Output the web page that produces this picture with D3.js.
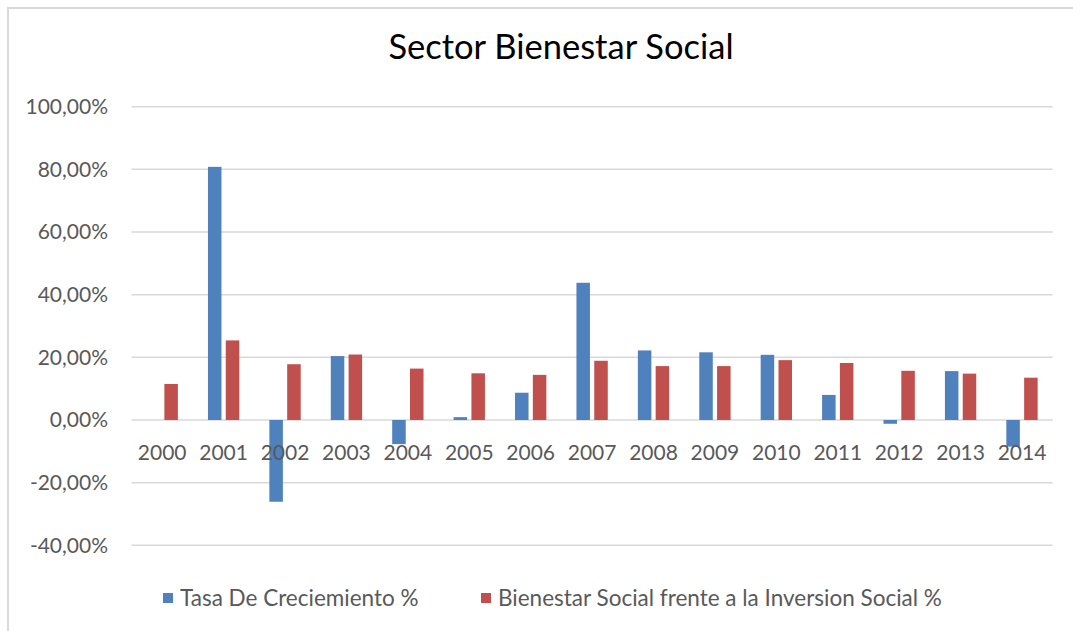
<!DOCTYPE html>
<html>
<head>
<meta charset="utf-8">
<script src="https://cdn.jsdelivr.net/npm/d3@7"></script>
<style>
  html, body { margin: 0; padding: 0; background: #fff; }
  svg { display: block; font-family: Lato, "Open Sans", sans-serif; }
  .tick-lbl { fill: #595959; font-size: 21px; }
  .legend-lbl { fill: #595959; font-size: 22.5px; }
  .title { fill: #000; font-size: 34.5px; }
</style>
</head>
<body>
<div id="chart"></div>
<script>
// Sector Bienestar Social: two series per year, percent values.
const years = ["2000", "2001", "2002", "2003", "2004", "2005", "2006", "2007",
  "2008", "2009", "2010", "2011", "2012", "2013", "2014"];
const tasaCrecimiento = [0, 80.8, -26.1, 20.4, -7.7, 0.9, 8.7, 43.8,
  22.2, 21.6, 20.8, 8.0, -1.2, 15.6, -8.5];
const bienestarInversion = [11.5, 25.4, 17.8, 20.9, 16.4, 14.9, 14.4, 18.9,
  17.2, 17.2, 19.1, 18.2, 15.7, 14.8, 13.5];
const yTicks = [-40, -20, 0, 20, 40, 60, 80, 100];
const seriesNames = ["Tasa De Creciemiento %", "Bienestar Social frente a la Inversion Social %"];
const colors = ["#4f81bd", "#c0504d"];

const W = 1073, H = 631;
const plot = { left: 131.5, right: 1052.7, top: 106.7, bottom: 545.3 };

const svg = d3.select("#chart").append("svg")
  .attr("width", W).attr("height", H);

// chart frame (only top and left edges are inside the picture)
svg.append("path")
  .attr("d", `M8,${H} L8,8 L${W},8`)
  .attr("fill", "none").attr("stroke", "#d9d9d9").attr("stroke-width", 2);

const x = d3.scaleBand(years, [plot.left, plot.right]);
const y = d3.scaleLinear([-40, 100], [plot.bottom, plot.top]);
const step = x.step();
const barW = step * 0.22;
const off = step * 0.145;

// gridlines
svg.append("g").selectAll("line").data(yTicks).join("line")
  .attr("x1", plot.left).attr("x2", plot.right)
  .attr("y1", (d) => y(d)).attr("y2", (d) => y(d))
  .attr("stroke", "#d9d9d9").attr("stroke-width", 1.5);

// y tick labels (comma decimals, plain hyphen minus)
const fmt = (d) => d.toFixed(2).replace(".", ",") + "%";
svg.append("g").selectAll("text").data(yTicks).join("text")
  .attr("class", "tick-lbl")
  .attr("x", 108).attr("y", (d) => y(d))
  .attr("dy", "0.35em").attr("text-anchor", "end")
  .text(fmt);

// bars
const series = [tasaCrecimiento, bienestarInversion];
series.forEach((vals, si) => {
  svg.append("g").selectAll("rect").data(vals.map((v, i) => ({ v, yr: years[i] })))
    .join("rect")
    .attr("x", (d) => x(d.yr) + step / 2 + (si === 0 ? -off : off) - barW / 2)
    .attr("width", barW)
    .attr("y", (d) => y(Math.max(0, d.v)))
    .attr("height", (d) => Math.abs(y(d.v) - y(0)))
    .attr("fill", colors[si]);
});

// category labels next to the zero line
svg.append("g").selectAll("text").data(years).join("text")
  .attr("class", "tick-lbl")
  .attr("x", (d) => x(d) + step / 2).attr("y", y(0) + 40)
  .attr("text-anchor", "middle")
  .text((d) => d);

// title
svg.append("text").attr("class", "title")
  .attr("x", 561).attr("y", 59).attr("text-anchor", "middle")
  .text("Sector Bienestar Social");

// legend
const legX = [163, 481];
const lg = svg.append("g").selectAll("g").data(seriesNames).join("g")
  .attr("transform", (_, i) => `translate(${legX[i]},593)`);
lg.append("rect").attr("width", 10).attr("height", 10).attr("fill", (_, i) => colors[i]);
lg.append("text").attr("class", "legend-lbl").attr("x", 17).attr("y", 13).text((d) => d);
</script>
</body>
</html>
